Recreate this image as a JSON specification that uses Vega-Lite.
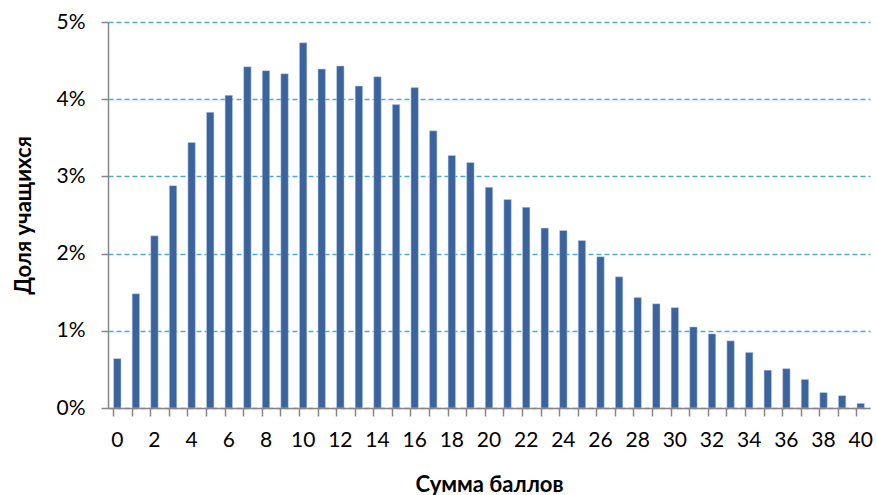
{
  "$schema": "https://vega.github.io/schema/vega-lite/v6.json",
  "width": 762,
  "height": 386,
  "autosize": {"type": "none"},
  "padding": {"left": 108, "top": 22, "right": 7, "bottom": 87},
  "background": "white",
  "config": {"view": {"stroke": null}, "font": "Lato"},
  "data": {"values": [
    {"score": 0, "share": 0.0064},
    {"score": 1, "share": 0.0148},
    {"score": 2, "share": 0.0223},
    {"score": 3, "share": 0.0288},
    {"score": 4, "share": 0.0344},
    {"score": 5, "share": 0.0383},
    {"score": 6, "share": 0.0405},
    {"score": 7, "share": 0.0442},
    {"score": 8, "share": 0.0437},
    {"score": 9, "share": 0.0433},
    {"score": 10, "share": 0.0473},
    {"score": 11, "share": 0.0439},
    {"score": 12, "share": 0.0443},
    {"score": 13, "share": 0.0417},
    {"score": 14, "share": 0.0429},
    {"score": 15, "share": 0.0393},
    {"score": 16, "share": 0.0415},
    {"score": 17, "share": 0.0359},
    {"score": 18, "share": 0.0327},
    {"score": 19, "share": 0.0318},
    {"score": 20, "share": 0.0286},
    {"score": 21, "share": 0.0270},
    {"score": 22, "share": 0.0260},
    {"score": 23, "share": 0.0233},
    {"score": 24, "share": 0.0230},
    {"score": 25, "share": 0.0217},
    {"score": 26, "share": 0.0196},
    {"score": 27, "share": 0.0170},
    {"score": 28, "share": 0.0143},
    {"score": 29, "share": 0.0135},
    {"score": 30, "share": 0.0130},
    {"score": 31, "share": 0.0105},
    {"score": 32, "share": 0.0096},
    {"score": 33, "share": 0.0087},
    {"score": 34, "share": 0.0072},
    {"score": 35, "share": 0.0049},
    {"score": 36, "share": 0.0051},
    {"score": 37, "share": 0.0037},
    {"score": 38, "share": 0.0020},
    {"score": 39, "share": 0.0016},
    {"score": 40, "share": 0.0006}
  ]},
  "mark": {"type": "bar", "color": "#3b639e", "stroke": "#c5d3e8", "strokeWidth": 0.5},
  "encoding": {
    "x": {
      "field": "score",
      "type": "ordinal",
      "scale": {"paddingInner": 0.6, "paddingOuter": 0.3},
      "axis": {
        "title": "Сумма баллов",
        "titleFontSize": 22,
        "titleFontWeight": "bold",
        "titleColor": "#000000",
        "titlePadding": 24,
        "labelAngle": 0,
        "labelFontSize": 21,
        "labelColor": "#000000",
        "labelPadding": 13,
        "labelExpr": "datum.value % 2 == 0 ? datum.label : ''",
        "bandPosition": 0,
        "tickSize": 8,
        "tickColor": "#868686",
        "tickWidth": 1.5,
        "domainColor": "#868686",
        "domainWidth": 1.5,
        "zindex": 1
      }
    },
    "y": {
      "field": "share",
      "type": "quantitative",
      "scale": {"domain": [0, 0.05]},
      "axis": {
        "title": "Доля учащихся",
        "titleFontSize": 22,
        "titleFontWeight": "bold",
        "titleColor": "#000000",
        "titlePadding": 20,
        "format": "%",
        "values": [0, 0.01, 0.02, 0.03, 0.04, 0.05],
        "labelFontSize": 21,
        "labelColor": "#000000",
        "labelPadding": 16,
        "tickSize": 7,
        "tickColor": "#868686",
        "tickWidth": 1.5,
        "domainColor": "#868686",
        "domainWidth": 1.5,
        "grid": true,
        "gridColor": "#4bacc6",
        "gridDash": [5, 3],
        "gridWidth": 1.3
      }
    }
  }
}
